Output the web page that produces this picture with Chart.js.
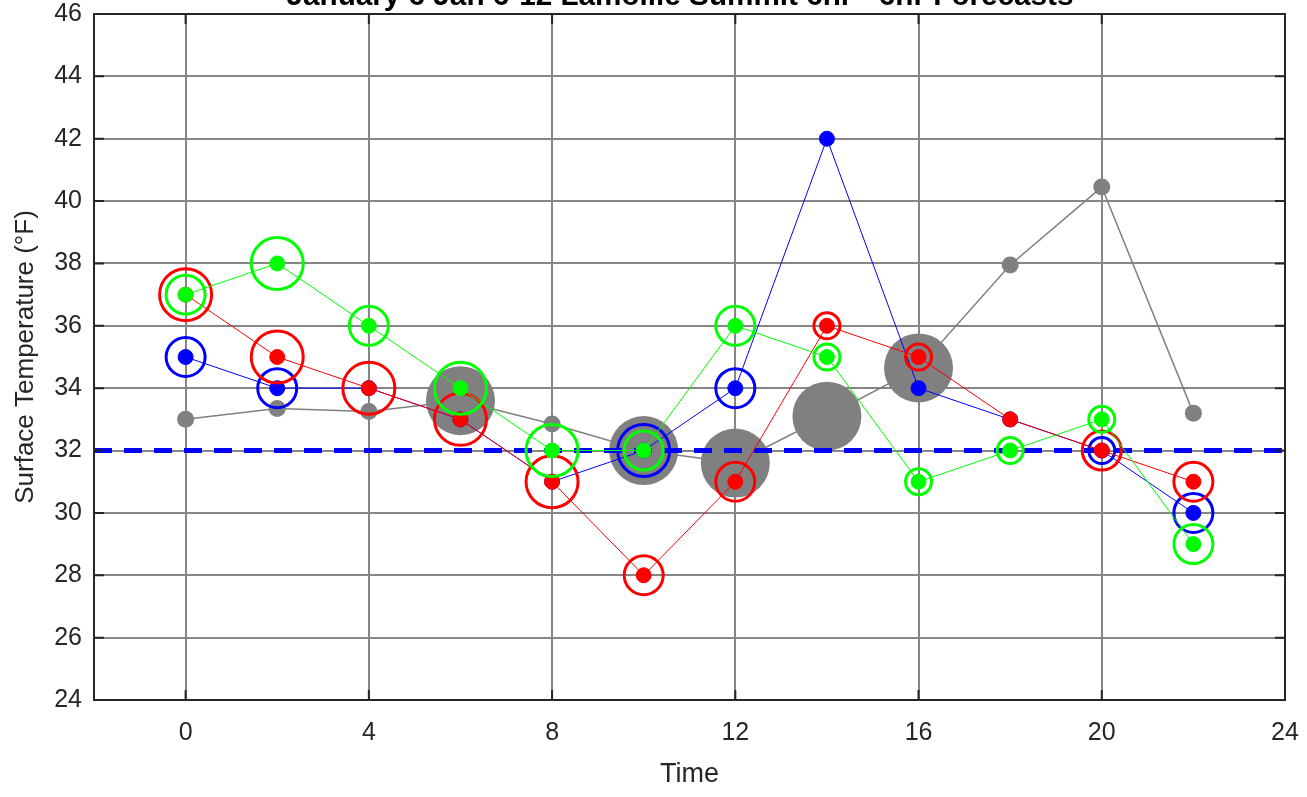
<!DOCTYPE html>
<html>
<head>
<meta charset="utf-8">
<script src="https://cdn.jsdelivr.net/npm/chart.js@4"></script>
<style>
    html, body { margin: 0; padding: 0; background: #fff; }
    #wrap { width: 1307px; height: 797px; }
</style>
</head>
<body>
<div id="wrap"><canvas id="chart" width="1307" height="797"></canvas></div>
<script>
// forecast hours
const hours = [0, 2, 4, 6, 8, 10, 12, 14, 16, 18, 20, 22];

// surface temperature (°F) per source
const obsTemp   = [33, 33.35, 33.25, 33.6, 32.85, 32, 31.6, 33.1, 34.65, 37.95, 40.45, 33.2];
const blueTemp  = [35, 34, 34, 33, 31, 32, 34, 42, 34, 33, 32, 30];
const redTemp   = [37, 35, 34, 33, 31, 28, 31, 36, 35, 33, 32, 31];
const greenTemp = [37, 38, 36, 34, 32, 32, 36, 35, 31, 32, 33, 29];

// marker weight levels (null = no ring)
const obsWeight   = [0, 0, 0, 4, 0, 4, 4, 4, 4, 0, 0, 0];
const blueWeight  = [2, 2, null, null, null, 3, 2, null, null, null, 1, 2];
const redWeight   = [3, 3, 3, 3, 3, 2, 2, 1, 1, null, 2, 2];
const greenWeight = [2, 3, 2, 3, 3, 2, 2, 1, 1, 1, 1, 2];

const freezing = 32;
const xMin = -2, xMax = 24;
const xTicks = [0, 4, 8, 12, 16, 20, 24];
const yMin = 24, yMax = 46, yStep = 2;

const titleText = 'January 6 Jan 6-12 Lamoille Summit 6hr - 6hr Forecasts';

const FONT = '"Liberation Sans", Arial, Helvetica, sans-serif';
const INK = '#262626';

function points(vals) {
    return hours.map((h, i) => ({ x: h, y: vals[i] }));
}

// outer radius grows with weight level
function outerRadius(level) {
    return 8 + 6.5 * level;
}

function lineSet(vals, color, order) {
    return {
        data: points(vals),
        showLine: true,
        borderColor: color,
        borderWidth: 1,
        backgroundColor: color,
        pointRadius: 7.5,
        pointBorderWidth: 1,
        pointBorderColor: color,
        pointBackgroundColor: color,
        order: order
    };
}

function ringSet(vals, weights, color, order) {
    return {
        data: points(vals),
        showLine: false,
        pointRadius: weights.map(w => w === null ? 0 : outerRadius(w) - 1.5),
        pointBorderWidth: 3,
        pointBorderColor: color,
        pointBackgroundColor: 'rgba(0,0,0,0)',
        order: order
    };
}

const frame = {
    id: 'frame',
    afterDraw(chart) {
        const { ctx, chartArea: a, scales } = chart;
        ctx.save();
        ctx.strokeStyle = INK;
        ctx.lineWidth = 2;
        ctx.strokeRect(a.left, a.top, a.right - a.left, a.bottom - a.top);

        // inward tick marks
        const len = 10;
        ctx.beginPath();
        scales.x.ticks.forEach(t => {
            const px = scales.x.getPixelForValue(t.value);
            ctx.moveTo(px, a.bottom); ctx.lineTo(px, a.bottom - len);
            ctx.moveTo(px, a.top); ctx.lineTo(px, a.top + len);
        });
        scales.y.ticks.forEach(t => {
            const py = scales.y.getPixelForValue(t.value);
            ctx.moveTo(a.left, py); ctx.lineTo(a.left + len, py);
            ctx.moveTo(a.right, py); ctx.lineTo(a.right - len, py);
        });
        ctx.stroke();

        // title sits partly above the canvas
        ctx.fillStyle = '#000';
        ctx.font = 'bold 29.7px ' + FONT;
        ctx.textAlign = 'center';
        ctx.textBaseline = 'alphabetic';
        ctx.fillText(titleText, 680, 5);
        ctx.restore();
    }
};

const datasets = [
    ringSet(greenTemp, greenWeight, '#00ff00', 0),
    lineSet(greenTemp, '#00ff00', 1),
    ringSet(redTemp, redWeight, '#ff0000', 2),
    lineSet(redTemp, '#ff0000', 3),
    ringSet(blueTemp, blueWeight, '#0000ff', 4),
    lineSet(blueTemp, '#0000ff', 5),
    {
        data: [{ x: xMin, y: freezing }, { x: xMax, y: freezing }],
        showLine: true,
        borderColor: '#0000ff',
        borderWidth: 5,
        borderDash: [18, 12],
        pointRadius: 0,
        order: 6
    },
    {
        data: points(obsTemp),
        showLine: true,
        borderColor: '#808080',
        borderWidth: 1.5,
        pointRadius: obsWeight.map(w => outerRadius(w) + 0.5),
        pointBorderWidth: 0,
        pointBackgroundColor: '#808080',
        backgroundColor: '#808080',
        order: 7
    }
];

new Chart(document.getElementById('chart'), {
    type: 'scatter',
    data: { datasets: datasets },
    options: {
        responsive: false,
        animation: false,
        events: [],
        layout: { autoPadding: false, padding: { top: 14, right: 22, left: 0, bottom: 0 } },
        plugins: {
            legend: { display: false },
            tooltip: { enabled: false }
        },
        scales: {
            x: {
                type: 'linear',
                min: xMin,
                max: xMax,
                afterBuildTicks: scale => { scale.ticks = xTicks.map(v => ({ value: v })); },
                afterFit: scale => {
                    scale.height = 97;
                    scale.paddingRight = 0;
                    scale.paddingLeft = 0;
                },
                grid: { color: '#868686', lineWidth: 2, drawTicks: false },
                border: { display: false },
                ticks: { color: INK, font: { family: FONT, size: 25 }, padding: 18, maxRotation: 0 },
                title: {
                    display: true, text: 'Time', color: INK,
                    font: { family: FONT, size: 27 }, padding: { top: 0, bottom: 6 }
                }
            },
            y: {
                min: yMin,
                max: yMax,
                afterFit: scale => { scale.width = 94; },
                grid: { color: '#868686', lineWidth: 2, drawTicks: false },
                border: { display: false },
                ticks: {
                    color: INK, font: { family: FONT, size: 25, lineHeight: 0.05 },
                    padding: 12, stepSize: yStep
                },
                title: {
                    display: true, text: 'Surface Temperature (°F)', color: INK,
                    font: { family: FONT, size: 26 }, padding: { top: 10, bottom: 0 }
                }
            }
        }
    },
    plugins: [frame]
});
</script>
</body>
</html>
